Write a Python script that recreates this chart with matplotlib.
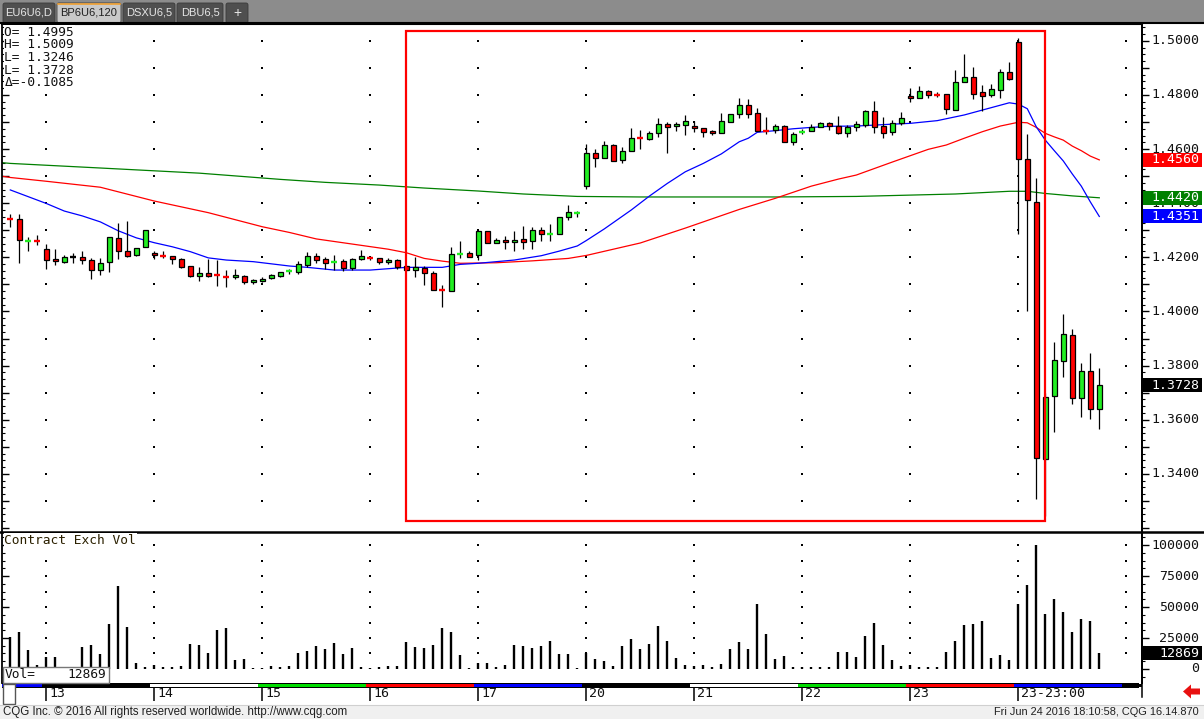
import matplotlib
matplotlib.use("Agg")
import matplotlib.pyplot as plt
from matplotlib.patches import Rectangle, Polygon, FancyBboxPatch
from matplotlib.ticker import MultipleLocator
import numpy as np

# ---------------- data ----------------
day_labels = ["13", "14", "15", "16", "17", "20", "21", "22", "23", "23-23:00"]
day_start_bars = [4, 16, 28, 40, 52, 64, 76, 88, 100, 112]

open_ = [1.4345, 1.4340, 1.4259, 1.4263, 1.4230, 1.4194, 1.4184, 1.4200, 1.4201, 1.4190,
         1.4152, 1.4181, 1.4270, 1.4223, 1.4207, 1.4237, 1.4216, 1.4206, 1.4204, 1.4194,
         1.4167, 1.4132, 1.4141, 1.4135, 1.4130, 1.4126, 1.4131, 1.4109, 1.4111, 1.4123,
         1.4132, 1.4147, 1.4145, 1.4173, 1.4204, 1.4193, 1.4180, 1.4186, 1.4162, 1.4193,
         1.4197, 1.4196, 1.4182, 1.4190, 1.4167, 1.4152, 1.4160, 1.4141, 1.4080, 1.4075,
         1.4211, 1.4215, 1.4207, 1.4296, 1.4252, 1.4264, 1.4256, 1.4268, 1.4259, 1.4300,
         1.4283, 1.4286, 1.4348, 1.4364, 1.4463, 1.4584, 1.4568, 1.4614, 1.4558, 1.4592,
         1.4643, 1.4638, 1.4658, 1.4692, 1.4684, 1.4688, 1.4685, 1.4677, 1.4667, 1.4658,
         1.4701, 1.4728, 1.4761, 1.4732, 1.4670, 1.4669, 1.4684, 1.4627, 1.4660, 1.4665,
         1.4680, 1.4695, 1.4684, 1.4658, 1.4681, 1.4689, 1.4740, 1.4684, 1.4662, 1.4697,
         1.4795, 1.4790, 1.4813, 1.4802, 1.4802, 1.4745, 1.4846, 1.4865, 1.4811, 1.4801,
         1.4819, 1.4883, 1.4995, 1.4562, 1.4403, 1.3454, 1.3686, 1.3816, 1.3912, 1.3679,
         1.3779, 1.3638]
high = [1.4360, 1.4360, 1.4276, 1.4282, 1.4249, 1.4231, 1.4210, 1.4217, 1.4224, 1.4196,
        1.4196, 1.4274, 1.4328, 1.4334, 1.4233, 1.4300, 1.4224, 1.4224, 1.4204, 1.4198,
        1.4167, 1.4165, 1.4194, 1.4190, 1.4153, 1.4157, 1.4136, 1.4121, 1.4127, 1.4138,
        1.4147, 1.4156, 1.4186, 1.4220, 1.4216, 1.4200, 1.4207, 1.4192, 1.4196, 1.4227,
        1.4205, 1.4198, 1.4196, 1.4194, 1.4172, 1.4200, 1.4169, 1.4150, 1.4098, 1.4238,
        1.4261, 1.4223, 1.4301, 1.4296, 1.4272, 1.4280, 1.4296, 1.4316, 1.4313, 1.4313,
        1.4323, 1.4348, 1.4393, 1.4370, 1.4618, 1.4599, 1.4630, 1.4617, 1.4607, 1.4678,
        1.4670, 1.4665, 1.4715, 1.4700, 1.4700, 1.4725, 1.4702, 1.4677, 1.4670, 1.4733,
        1.4728, 1.4787, 1.4784, 1.4750, 1.4719, 1.4694, 1.4689, 1.4662, 1.4674, 1.4692,
        1.4701, 1.4701, 1.4723, 1.4689, 1.4702, 1.4744, 1.4777, 1.4717, 1.4707, 1.4737,
        1.4824, 1.4833, 1.4817, 1.4809, 1.4802, 1.4891, 1.4951, 1.4903, 1.4836, 1.4840,
        1.4896, 1.4920, 1.5009, 1.4654, 1.4492, 1.3700, 1.3887, 1.3991, 1.3935, 1.3810,
        1.3846, 1.3791]
low = [1.4313, 1.4180, 1.4224, 1.4244, 1.4157, 1.4173, 1.4180, 1.4178, 1.4175, 1.4119,
       1.4136, 1.4147, 1.4194, 1.4201, 1.4204, 1.4237, 1.4193, 1.4198, 1.4177, 1.4162,
       1.4126, 1.4114, 1.4126, 1.4094, 1.4092, 1.4120, 1.4102, 1.4103, 1.4108, 1.4120,
       1.4127, 1.4137, 1.4140, 1.4165, 1.4180, 1.4156, 1.4152, 1.4148, 1.4152, 1.4190,
       1.4189, 1.4176, 1.4176, 1.4157, 1.4150, 1.4129, 1.4098, 1.4078, 1.4015, 1.4075,
       1.4196, 1.4202, 1.4190, 1.4252, 1.4252, 1.4232, 1.4224, 1.4232, 1.4232, 1.4261,
       1.4261, 1.4286, 1.4339, 1.4348, 1.4454, 1.4535, 1.4568, 1.4555, 1.4547, 1.4592,
       1.4601, 1.4632, 1.4643, 1.4584, 1.4668, 1.4651, 1.4664, 1.4646, 1.4651, 1.4658,
       1.4701, 1.4716, 1.4716, 1.4668, 1.4656, 1.4658, 1.4625, 1.4616, 1.4656, 1.4665,
       1.4680, 1.4670, 1.4656, 1.4646, 1.4667, 1.4680, 1.4660, 1.4642, 1.4652, 1.4689,
       1.4775, 1.4790, 1.4790, 1.4793, 1.4729, 1.4745, 1.4846, 1.4786, 1.4741, 1.4792,
       1.4787, 1.4855, 1.4285, 1.4003, 1.3306, 1.3246, 1.3556, 1.3759, 1.3660, 1.3611,
       1.3602, 1.3567]
close = [1.4340, 1.4263, 1.4263, 1.4259, 1.4189, 1.4185, 1.4200, 1.4200, 1.4191, 1.4152,
         1.4178, 1.4274, 1.4222, 1.4206, 1.4233, 1.4300, 1.4207, 1.4202, 1.4193, 1.4165,
         1.4132, 1.4141, 1.4132, 1.4134, 1.4128, 1.4135, 1.4109, 1.4118, 1.4121, 1.4135,
         1.4145, 1.4150, 1.4174, 1.4204, 1.4191, 1.4180, 1.4184, 1.4162, 1.4192, 1.4205,
         1.4195, 1.4182, 1.4190, 1.4166, 1.4152, 1.4164, 1.4141, 1.4078, 1.4076, 1.4211,
         1.4215, 1.4202, 1.4297, 1.4252, 1.4264, 1.4256, 1.4264, 1.4258, 1.4300, 1.4285,
         1.4287, 1.4348, 1.4366, 1.4367, 1.4584, 1.4568, 1.4614, 1.4555, 1.4593, 1.4640,
         1.4638, 1.4659, 1.4692, 1.4680, 1.4692, 1.4703, 1.4677, 1.4664, 1.4658, 1.4702,
         1.4728, 1.4761, 1.4731, 1.4668, 1.4667, 1.4684, 1.4627, 1.4655, 1.4665, 1.4681,
         1.4695, 1.4684, 1.4658, 1.4682, 1.4691, 1.4740, 1.4682, 1.4660, 1.4695, 1.4713,
         1.4787, 1.4813, 1.4799, 1.4798, 1.4749, 1.4846, 1.4865, 1.4804, 1.4797, 1.4821,
         1.4883, 1.4859, 1.4562, 1.4410, 1.3457, 1.3683, 1.3819, 1.3916, 1.3679, 1.3779,
         1.3638, 1.3728]
volume = [25700, 29700, 15300, 3500, 9400, 9400, 2000, 2000, 17700, 19300,
          12100, 36400, 67000, 33800, 4800, 1900, 3200, 1900, 1900, 2700,
          20400, 19300, 13100, 31600, 33000, 7500, 8300, 1100, 1100, 2400,
          1900, 2700, 12900, 14700, 18500, 16300, 20900, 12300, 16900, 1600,
          1100, 1300, 2400, 2700, 21700, 18000, 17200, 19300, 33000, 29700,
          11000, 800, 5100, 5100, 1600, 3200, 19300, 18500, 16900, 18500,
          22500, 12100, 12100, 1100, 12900, 8300, 6700, 2700, 18800, 24400,
          16100, 20400, 34600, 22800, 8800, 3500, 2700, 3500, 1900, 4000,
          16300, 22000, 16100, 52500, 28400, 8000, 10500, 1300, 1600, 1600,
          1300, 1300, 13900, 13900, 9900, 26500, 37300, 19300, 7200, 2700,
          3200, 1600, 1300, 1900, 13900, 22800, 35600, 36400, 38600, 9100,
          11300, 7200, 52500, 67500, 100000, 44500, 56300, 45800, 29700, 40200,
          38600, 12869]

# moving averages (bar index -> value)
blue_ma_bars = [0, 4, 6, 8, 10, 12, 14, 16, 18, 20, 22, 24, 27, 31, 33, 36, 40, 44, 48, 50,
                52, 53, 56, 59, 61, 63, 64, 66, 69, 71, 73, 75, 77, 79, 81, 82, 83, 85, 87, 89,
                91, 94, 98, 100, 103, 106, 109, 111, 112, 113, 114, 115, 116, 117, 118, 119, 120, 121]
blue_ma = [1.4449, 1.4399, 1.4371, 1.4353, 1.4331, 1.4298, 1.4272, 1.4254, 1.4239, 1.4221,
           1.4198, 1.4190, 1.4184, 1.4168, 1.4163, 1.4153, 1.4153, 1.4163, 1.4163, 1.4174,
           1.4178, 1.4181, 1.4190, 1.4206, 1.4223, 1.4242, 1.4262, 1.4305, 1.4375, 1.4426,
           1.4473, 1.4516, 1.4547, 1.4582, 1.4627, 1.4640, 1.4662, 1.4668, 1.4675, 1.4680,
           1.4684, 1.4685, 1.4692, 1.4695, 1.4705, 1.4726, 1.4753, 1.4771, 1.4766, 1.4749,
           1.4682, 1.4633, 1.4594, 1.4556, 1.4508, 1.4463, 1.4405, 1.4351]
red_ma_bars = [-1, 0, 4, 10, 16, 22, 28, 31, 34, 38, 42, 44, 46, 48, 50, 54, 58, 62, 64, 70,
               75, 81, 85, 89, 92, 94, 98, 102, 104, 106, 108, 110, 112, 113, 114, 115, 116,
               117, 118, 119, 120, 121]
red_ma = [1.4500, 1.4495, 1.4481, 1.4459, 1.4408, 1.4365, 1.4313, 1.4292, 1.4268, 1.4249,
          1.4230, 1.4217, 1.4196, 1.4186, 1.4178, 1.4180, 1.4187, 1.4196, 1.4207, 1.4253,
          1.4308, 1.4377, 1.4418, 1.4463, 1.4489, 1.4504, 1.4552, 1.4599, 1.4615, 1.4640,
          1.4664, 1.4685, 1.4699, 1.4697, 1.4680, 1.4658, 1.4645, 1.4633, 1.4611, 1.4594,
          1.4574, 1.4560]
green_ma_bars = [-1, 0, 10, 21, 30, 35, 41, 46, 52, 57, 63, 70, 85, 94, 105, 111, 113, 115, 118, 121]
green_ma = [1.4550, 1.4547, 1.4530, 1.4511, 1.4488, 1.4477, 1.4467, 1.4456, 1.4445, 1.4434,
            1.4425, 1.4423, 1.4423, 1.4425, 1.4434, 1.4444, 1.4444, 1.4436, 1.4427, 1.4420]

ma_last = [(1.4560, "#ff0000"), (1.4420, "#008000"), (1.4351, "#0000ff")]
last_price = 1.3728
last_volume = 12869
price_labels = [1.34, 1.36, 1.38, 1.40, 1.42, 1.44, 1.46, 1.48, 1.50]
volume_labels = [0, 25000, 50000, 75000, 100000]
ohlc_lines = ["O= 1.4995", "H= 1.5009", "L= 1.3246", "L= 1.3728", "\u0394=-0.1085"]
highlight_bars = (44, 115)
highlight_prices = (1.3226, 1.5036)
tabs = ["EU6U6,D", "BP6U6,120", "DSXU6,5", "DBU6,5", "+"]

# ---------------- layout ----------------
W, H = 1204, 719
fig = plt.figure(figsize=(W / 100, H / 100), dpi=100)
fig.patch.set_facecolor("white")


def frect(x0, y0, x1, y1):
    return [x0 / W, 1 - y1 / H, (x1 - x0) / W, (y1 - y0) / H]


BAR0_PX, BAR_PX = 10.3, 9.0
PLOT_L, PLOT_R = 2, 1142
XLIM = ((PLOT_L - BAR0_PX) / BAR_PX, (PLOT_R - BAR0_PX) / BAR_PX)
P_TOP, P_BOT = 1.5062, 1.3189
V_TOP, V_BOT = 109700, -11300
MONO = "DejaVu Sans Mono"
SANS = "Liberation Sans"


def axfrac(px):
    return (px - PLOT_L) / (PLOT_R - PLOT_L)


ax = fig.add_axes(frect(PLOT_L, 24, PLOT_R, 531))
axv = fig.add_axes(frect(PLOT_L, 533, PLOT_R, 683))
axt = fig.add_axes(frect(PLOT_L, 683, PLOT_R, 705))
fg = fig.add_axes([0, 0, 1, 1], zorder=20)
fg.set_xlim(0, W)
fg.set_ylim(H, 0)
fg.axis("off")
fg.patch.set_alpha(0)

# ---------------- price panel ----------------
ax.set_xlim(*XLIM)
ax.set_ylim(P_BOT, P_TOP)
ax.set_xticks([])
ax.yaxis.set_major_locator(MultipleLocator(0.01))
ax.yaxis.set_minor_locator(MultipleLocator(0.0025))
ax.tick_params(axis="y", which="major", direction="in", length=5, width=1,
               left=True, right=False, labelleft=False)
ax.tick_params(axis="y", which="minor", direction="in", length=2.5, width=0.8,
               left=True, right=False)
for s in ["left", "right"]:
    ax.spines[s].set_linewidth(1.3)
ax.spines["top"].set_linewidth(1.5)
ax.spines["bottom"].set_visible(False)

sec = ax.secondary_yaxis("right")
sec.yaxis.set_major_locator(MultipleLocator(0.01))
sec.yaxis.set_minor_locator(MultipleLocator(0.0025))
sec.tick_params(axis="y", which="major", direction="out", length=5, width=1, labelright=False)
sec.tick_params(axis="y", which="minor", direction="out", length=2.5, width=0.8)
sec.spines["right"].set_linewidth(1.3)

grid_x = np.array(day_start_bars + [day_start_bars[-1] + 12])
grid_y = np.arange(1.33, 1.5051, 0.01)
GX, GY = np.meshgrid(grid_x, grid_y)
ax.scatter(GX.ravel(), GY.ravel(), s=1.3, c="black", marker="s", linewidths=0, zorder=1)

ax.plot(green_ma_bars, green_ma, color="#008000", lw=0.9, zorder=2)
ax.plot(red_ma_bars, red_ma, color="#ff0000", lw=0.9, zorder=2)
ax.plot(blue_ma_bars, blue_ma, color="#0000ff", lw=0.9, zorder=2)

x = np.arange(len(open_))
o = np.array(open_)
h = np.array(high)
l = np.array(low)
c = np.array(close)
diff = c - o
small = np.abs(diff) < 0.00075
cols = np.where(diff > 0, "#22ee22", np.where(diff < 0, "#ff0000", "#000000"))
ax.vlines(x, l, h, color="black", lw=0.9, zorder=3)
big = ~small
ax.bar(x[big], np.abs(diff[big]), bottom=np.minimum(o, c)[big], width=0.62,
       color=cols[big], edgecolor="black", linewidth=0.9, zorder=4)
ax.hlines(((o + c) / 2)[small], x[small] - 0.33, x[small] + 0.33,
          colors=cols[small], lw=1.7, zorder=4)

ax.add_patch(Rectangle((highlight_bars[0], highlight_prices[0]),
                       highlight_bars[1] - highlight_bars[0],
                       highlight_prices[1] - highlight_prices[0],
                       fill=False, edgecolor="#ff0000", lw=1.6, zorder=6, clip_on=False))

ytr = ax.get_yaxis_transform()
for p in price_labels:
    ax.text(axfrac(1199), p, f"{p:.4f}", transform=ytr, ha="right", va="center",
            fontfamily=MONO, fontsize=9.5, color="#111111", clip_on=False, zorder=5)

box_h = (P_TOP - P_BOT) / 507 * 14
for val, colr in ma_last + [(last_price, "#000000")]:
    ax.add_patch(Rectangle((axfrac(1143), val - box_h / 2), axfrac(1202) - axfrac(1143), box_h,
                           transform=ytr, facecolor=colr, edgecolor="none",
                           clip_on=False, zorder=7))
    ax.text(axfrac(1199), val, f"{val:.4f}", transform=ytr, ha="right", va="center",
            fontfamily=MONO, fontsize=9.5, color="white", clip_on=False, zorder=8)

# ---------------- volume panel ----------------
axv.set_xlim(*XLIM)
axv.set_ylim(V_BOT, V_TOP)
axv.set_xticks([])
axv.yaxis.set_major_locator(MultipleLocator(25000))
axv.yaxis.set_minor_locator(MultipleLocator(6250))
axv.tick_params(axis="y", which="major", direction="in", length=5, width=1,
                left=True, right=False, labelleft=False)
axv.tick_params(axis="y", which="minor", direction="in", length=2.5, width=0.8, left=True)
for s in ["top", "bottom"]:
    axv.spines[s].set_visible(False)
for s in ["left", "right"]:
    axv.spines[s].set_linewidth(1.3)
secv = axv.secondary_yaxis("right")
secv.yaxis.set_major_locator(MultipleLocator(25000))
secv.yaxis.set_minor_locator(MultipleLocator(6250))
secv.tick_params(axis="y", which="major", direction="out", length=5, width=1, labelright=False)
secv.tick_params(axis="y", which="minor", direction="out", length=2.5, width=0.8)
secv.spines["right"].set_linewidth(1.3)

vgy = np.arange(12500, 100001, 12500)
VX, VY = np.meshgrid(grid_x, vgy)
axv.scatter(VX.ravel(), VY.ravel(), s=1.3, c="black", marker="s", linewidths=0, zorder=1)
axv.vlines(x, 0, volume, color="black", lw=1.7, zorder=3)

vtr = axv.get_yaxis_transform()
for v in volume_labels:
    axv.text(axfrac(1199), v, f"{v}", transform=vtr, ha="right", va="center",
             fontfamily=MONO, fontsize=9.5, color="#111111", clip_on=False)
vbox_h = (V_TOP - V_BOT) / 150 * 14
axv.add_patch(Rectangle((axfrac(1143), last_volume - vbox_h / 2), axfrac(1202) - axfrac(1143),
                        vbox_h, transform=vtr, facecolor="black", edgecolor="none",
                        clip_on=False, zorder=7))
axv.text(axfrac(1199), last_volume, f"{last_volume}", transform=vtr, ha="right", va="center",
         fontfamily=MONO, fontsize=9.5, color="white", clip_on=False, zorder=8)

# ---------------- time axis ----------------
axt.set_xlim(*XLIM)
axt.set_ylim(22, 0)
axt.axis("off")
axt.add_patch(Rectangle((XLIM[0], 0), XLIM[1] - XLIM[0] - 0.3, 4.5, facecolor="black",
                        edgecolor="none"))
cycle = ["#0000ff", "#000000", "#ffffff", "#00dd00", "#ff0000"]
for k in range(-1, len(day_start_bars) + 1):
    start = day_start_bars[0] + 12 * k - 0.5
    colr = cycle[(k + 1) % 5]
    axt.add_patch(Rectangle((start, 1.2), 12, 2.3, facecolor=colr, edgecolor="none"))
axt.vlines(day_start_bars, 4.5, 17.5, color="black", lw=1.1)
for b, lab in zip(day_start_bars, day_labels):
    axt.text(b + 0.35, 10.5, lab, ha="left", va="center", fontfamily=MONO, fontsize=9.5,
             color="#111111")

# ---------------- decorations ----------------
# tab bar
fg.add_patch(Rectangle((0, 0), W, 22.5, facecolor="#8c8c8c", edgecolor="none"))
tab_x = [(3, 55), (57, 121), (123, 175), (177, 223), (226, 248)]
for i, ((x0, x1), name) in enumerate(zip(tab_x, tabs)):
    active = i == 1
    fg.add_patch(FancyBboxPatch((x0, 3), x1 - x0, 20, boxstyle="round,pad=0,rounding_size=2",
                                facecolor="#c9c9c9" if active else "#4f4f4f",
                                edgecolor="#3a3a3a", lw=0.6))
    if active:
        fg.plot([x0 + 1, x1 - 1], [3.6, 3.6], color="#f0a030", lw=1.2)
    fg.text((x0 + x1) / 2, 12.5, name, ha="center", va="center", fontfamily=SANS,
            fontsize=8 if name != "+" else 10,
            color="#202020" if active else "#e6e6e6")
fg.plot([0, W], [23, 23], color="black", lw=1.5)

# OHLC readout
for i, line in enumerate(ohlc_lines):
    fg.text(4.5, 32 + 12.7 * i, line, ha="left", va="center", fontfamily=MONO, fontsize=9.3,
            color="#111111",
            bbox=dict(boxstyle="square,pad=0.05", facecolor="white", edgecolor="none"))

# panel separator
fg.plot([0, W], [531.8, 531.8], color="black", lw=1.8)

# volume title and readout box
fg.text(4.5, 540, "Contract Exch Vol", ha="left", va="center", fontfamily=MONO, fontsize=9.3,
        color="#2b2000",
        bbox=dict(boxstyle="square,pad=0.05", facecolor="white", edgecolor="none"))
fg.add_patch(Rectangle((2.5, 666.5), 106, 16, facecolor="white", edgecolor="#777777", lw=1))
fg.text(5, 675, "Vol=", ha="left", va="center", fontfamily=MONO, fontsize=9.3, color="#111111")
fg.text(106, 675, f"{last_volume}", ha="right", va="center", fontfamily=MONO, fontsize=9.3,
        color="#111111")

# axis line continuation & scroll widget
fg.plot([1142, 1142], [683, 697], color="black", lw=1.1)
fg.add_patch(Rectangle((2.5, 684), 12.5, 20, facecolor="white", edgecolor="#555555", lw=1))

# red arrow
fg.add_patch(Polygon([(1183, 691.5), (1191, 684.5), (1191, 688.5), (1200, 688.5),
                      (1200, 694.5), (1191, 694.5), (1191, 698.5)],
                     closed=True, facecolor="#e81010", edgecolor="none"))

# footer
fg.add_patch(Rectangle((0, 705), W, 14, facecolor="#f0f0f0", edgecolor="none"))
fg.plot([0, W], [705, 705], color="#d0d0d0", lw=0.8)
fg.text(3, 712, "CQG Inc. \u00a9 2016 All rights reserved worldwide. http://www.cqg.com",
        ha="left", va="center", fontfamily=SANS, fontsize=8.3, color="#202020")
fg.text(1199, 712, "Fri Jun 24 2016 18:10:58, CQG 16.14.870", ha="right", va="center",
        fontfamily=SANS, fontsize=7.9, color="#202020")

fig.savefig("out.png", dpi=100)
